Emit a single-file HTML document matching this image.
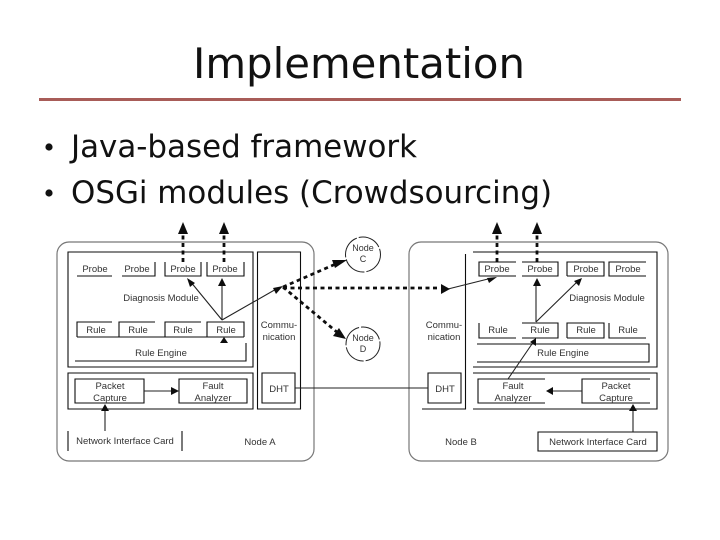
<!DOCTYPE html>
<html>
<head>
<meta charset="utf-8">
<style>
html,body{margin:0;padding:0;background:#fff;width:720px;height:540px;overflow:hidden}
svg{display:block}
.d{font-family:"Liberation Sans",sans-serif;font-size:9.5px;fill:#333;text-anchor:middle}
.l{fill:none;stroke:#111;stroke-width:1.1}
.a{stroke:#222;stroke-width:1.1;fill:none}
.t{stroke:#111;stroke-width:2.8;stroke-dasharray:4 3.5;fill:none}
.h{fill:#111}
.o{fill:#fff;stroke:#777;stroke-width:1.2}
</style>
</head>
<body>
<svg width="720" height="540" viewBox="0 0 720 540" xmlns="http://www.w3.org/2000/svg">
<defs><filter id="b" x="-5%" y="-5%" width="110%" height="110%"><feGaussianBlur stdDeviation="0.35"/></filter></defs>
<rect width="720" height="540" fill="#fff"/>
<text x="193" y="78" font-family="'DejaVu Sans',sans-serif" font-size="42" fill="#111" textLength="332" lengthAdjust="spacingAndGlyphs">Implementation</text>
<rect x="39" y="98" width="642" height="3" fill="#a85c58"/>
<g font-family="'DejaVu Sans',sans-serif" font-size="31" fill="#111">
<circle cx="49" cy="147" r="3.6"/>
<circle cx="49" cy="193" r="3.6"/>
<text x="71" y="157" textLength="346" lengthAdjust="spacingAndGlyphs">Java-based framework</text>
<text x="71" y="203" textLength="481" lengthAdjust="spacingAndGlyphs">OSGi modules (Crowdsourcing)</text>
</g>

<g filter="url(#b)">
<!-- Node A -->
<rect class="o" x="57" y="242" width="257" height="219" rx="12"/>
<path class="l" d="M68 252H253V367H68Z M257.5 252H300.5V409H257.5Z M68 373H253V409H68Z M75 379H144V403H75Z M179 379H247V403H179Z M262 373H295V403H262Z"/>
<path class="l" d="M77 276H112 M122 276H155V262 M165 262V276H201V262 M207 262V276H244V262"/>
<path class="l" d="M77 337V322H112 M119 337V322H155 M165 337V322H201 M207 337V322H244V337 M77 337H244"/>
<path class="l" d="M75 361H246V343 M68 431V451 M182 431V451"/>
<g class="d">
<text x="95" y="272">Probe</text><text x="137" y="272">Probe</text><text x="183" y="272">Probe</text><text x="225" y="272">Probe</text>
<text x="161" y="301">Diagnosis Module</text>
<text x="96" y="333">Rule</text><text x="138" y="333">Rule</text><text x="183" y="333">Rule</text><text x="226" y="333">Rule</text>
<text x="161" y="356">Rule Engine</text>
<text x="110" y="389">Packet</text><text x="110" y="401">Capture</text>
<text x="213" y="389">Fault</text><text x="213" y="401">Analyzer</text>
<text x="279" y="328">Commu-</text><text x="279" y="340">nication</text>
<text x="279" y="392">DHT</text>
<text x="125" y="444">Network Interface Card</text>
<text x="260" y="445">Node A</text>
</g>

<!-- Node B -->
<rect class="o" x="409" y="242" width="259" height="219" rx="12"/>
<path class="l" d="M473 252H657V367H473 M465.5 254V409H422 M473 373H657V409H473 M545 379H478V403H545 M650 379H582V403H650 M428 373H461V403H428Z M538 432H657V451H538Z M477 344H649V362H477"/>
<path class="l" d="M516 262H479V276H516 M522 262H558V276H522 M567 276V262H604V276H567 M646 262H609V276H646"/>
<path class="l" d="M516 338H479V323 M522 323H558V338H522 M567 338V323H604V338H567 M646 338H609V323"/>
<g class="d">
<text x="497" y="272">Probe</text><text x="540" y="272">Probe</text><text x="586" y="272">Probe</text><text x="628" y="272">Probe</text>
<text x="607" y="301">Diagnosis Module</text>
<text x="498" y="333">Rule</text><text x="540" y="333">Rule</text><text x="586" y="333">Rule</text><text x="628" y="333">Rule</text>
<text x="563" y="356">Rule Engine</text>
<text x="513" y="389">Fault</text><text x="513" y="401">Analyzer</text>
<text x="616" y="389">Packet</text><text x="616" y="401">Capture</text>
<text x="444" y="328">Commu-</text><text x="444" y="340">nication</text>
<text x="445" y="392">DHT</text>
<text x="598" y="445">Network Interface Card</text>
<text x="461" y="445">Node B</text>
</g>

<!-- Nodes C and D -->
<circle cx="363" cy="254.5" r="17.5" fill="#fff" stroke="#222" stroke-width="1" stroke-dasharray="24 2"/>
<circle cx="363" cy="344" r="17" fill="#fff" stroke="#222" stroke-width="1" stroke-dasharray="24 2"/>
<g class="d" style="font-size:9px">
<text x="363" y="251">Node</text><text x="363" y="262">C</text>
<text x="363" y="341">Node</text><text x="363" y="352">D</text>
</g>

<!-- Connectors -->
<path class="t" d="M183 262V230 M224 262V230 M497 262V230 M537 262V230"/>
<path class="t" d="M283 287L338 263 M283 287L338 333 M283 288H440"/>
<path class="a" d="M222 320L190 281 M222 320V281 M222 320L278 288 M448 289L492 278 M536 322V282 M536 322L578 281 M508 379L534 341 M582 391H552 M633 432V408 M105 431V407 M144 391H172 M295 388H428"/>
<path class="h" d="M183 222L188 234H178Z M224 222L229 234H219Z M497 222L502 234H492Z M537 222L542 234H532Z"/>
<path class="h" d="M347 260L335 268L332 260Z M346 339L333 336L339 328Z M450 289L441 294V284Z"/>
<path class="h" d="M187 278L195 283L190 287Z M222 278L226 286H218Z M283 286L276 294L273 288Z M497 277L489 283L487 278Z M537 278L541 286H533Z M582 278L579 286L574 281Z M536 338L536 346L530 342Z M546 391L553 387V395Z M633 404L637 411H629Z M105 404L109 411H101Z M179 391L171 387V395Z M224 337L228 343H220Z"/>
</g>
</svg>
</body>
</html>
